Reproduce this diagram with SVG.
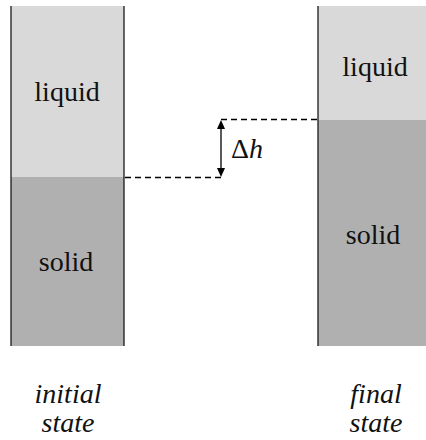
<svg xmlns="http://www.w3.org/2000/svg" width="426" height="440" viewBox="0 0 426 440">
<g id="initial">
<rect x="11" y="6" width="113" height="171" fill="#d9d9d9"/>
<rect x="11" y="177" width="113" height="169" fill="#b0b0b0"/>
<line x1="11" y1="6" x2="11" y2="346" stroke="#1a1a1a" stroke-width="1.3"/>
<line x1="124" y1="6" x2="124" y2="346" stroke="#1a1a1a" stroke-width="1.3"/>
<text x="67" y="101" font-family="Liberation Serif" font-size="28" fill="#111" text-anchor="middle">liquid</text>
<text x="66" y="271" font-family="Liberation Serif" font-size="28" fill="#111" text-anchor="middle">solid</text>
<text x="68" y="403" font-family="Liberation Serif" font-size="28" font-style="italic" fill="#111" text-anchor="middle">initial</text>
<text x="68" y="432" font-family="Liberation Serif" font-size="28" font-style="italic" fill="#111" text-anchor="middle">state</text>
</g>
<g id="final">
<rect x="318" y="6" width="108" height="114" fill="#d9d9d9"/>
<rect x="318" y="120" width="108" height="226" fill="#b0b0b0"/>
<line x1="318" y1="6" x2="318" y2="346" stroke="#1a1a1a" stroke-width="1.3"/>
<text x="375" y="76" font-family="Liberation Serif" font-size="28" fill="#111" text-anchor="middle">liquid</text>
<text x="373" y="244" font-family="Liberation Serif" font-size="28" fill="#111" text-anchor="middle">solid</text>
<text x="376" y="403" font-family="Liberation Serif" font-size="28" font-style="italic" fill="#111" text-anchor="middle">final</text>
<text x="376" y="432" font-family="Liberation Serif" font-size="28" font-style="italic" fill="#111" text-anchor="middle">state</text>
</g>
<g id="connectors">
<line x1="125" y1="177.5" x2="221" y2="177.5" stroke="#000" stroke-width="1.3" stroke-dasharray="6,4"/>
<line x1="221" y1="119.5" x2="317" y2="119.5" stroke="#000" stroke-width="1.3" stroke-dasharray="6,4"/>
<line x1="221" y1="126" x2="221" y2="171" stroke="#000" stroke-width="1.3"/>
<path d="M221,120 L217,129 L225,129 Z" fill="#000"/>
<path d="M221,177 L217,168 L225,168 Z" fill="#000"/>
<text x="247" y="158" font-family="Liberation Serif" font-size="28" fill="#111" text-anchor="middle">&#916;<tspan font-style="italic">h</tspan></text>
</g>
</svg>
